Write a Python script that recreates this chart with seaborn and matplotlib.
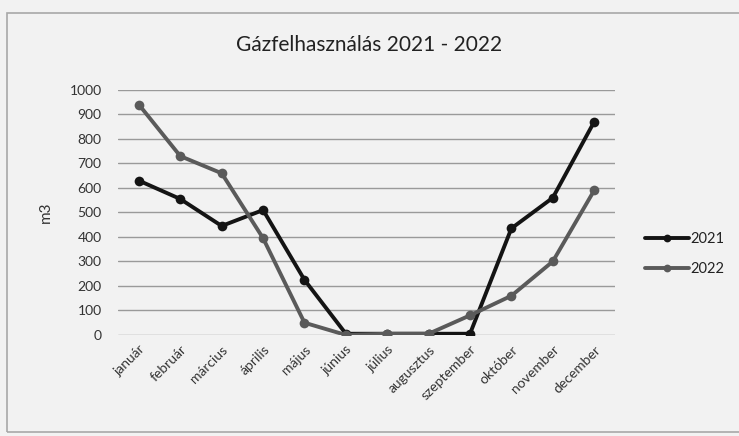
import pandas as pd
import matplotlib.pyplot as plt
import seaborn as sns
from matplotlib.patches import Rectangle

honapok = ['január', 'február', 'március', 'április', 'május', 'június',
           'július', 'augusztus', 'szeptember', 'október', 'november', 'december']
fogyasztas_2021 = [630, 555, 445, 510, 225, 5, 5, 5, 5, 435, 560, 870]
fogyasztas_2022 = [940, 730, 660, 395, 50, 0, 5, 5, 80, 160, 300, 590]
evek = ['2021', '2022']
szinek = {'2021': '#141414', '2022': '#5a5a5a'}

df = pd.DataFrame({
    'honap': honapok * 2,
    'ev': ['2021'] * 12 + ['2022'] * 12,
    'm3': fogyasztas_2021 + fogyasztas_2022,
})
df['pos'] = list(range(12)) * 2

sns.set_theme(style='white')
plt.rcParams['font.family'] = ['Lato', 'DejaVu Sans']

fig = plt.figure(figsize=(7.39, 4.36), dpi=100, facecolor='#f2f2f2')
fig.patches.append(Rectangle((7 / 739, 4 / 436), 740 / 739, 419 / 436,
                             transform=fig.transFigure, fill=False,
                             edgecolor='#a8a8a8', linewidth=1.2))
ax = fig.add_axes([0.160, 0.2317, 0.672, 0.5619])
ax.set_facecolor('#f2f2f2')

sns.lineplot(data=df, x='pos', y='m3', hue='ev', hue_order=evek, palette=szinek,
             marker='o', markersize=7, markeredgewidth=0, linewidth=2.8, ax=ax)

ax.set_xlim(-0.5, 11.5)
ax.set_ylim(0, 1000)
ax.set_yticks(range(0, 1001, 100))
ax.set_xticks(range(12))
ax.set_xticklabels(honapok, rotation=45, ha='right', rotation_mode='anchor',
                   fontsize=10, color='#333333')
ax.tick_params(axis='y', labelsize=10, labelcolor='#333333', length=0, pad=12)
ax.tick_params(axis='x', length=0, pad=6)
ax.yaxis.grid(True, color='#9a9a9a', linewidth=1.0)
ax.set_axisbelow(True)
for s in ax.spines.values():
    s.set_visible(False)
ax.set_xlabel('')
ax.set_ylabel('m3', fontsize=11, color='#333333', labelpad=12)

fig.text(0.5, 0.897, 'Gázfelhasználás 2021 - 2022', ha='center', va='center',
         fontsize=15, color='#222222')

leg = ax.legend(loc='center left', bbox_to_anchor=(1.035, 0.33), frameon=False,
                fontsize=10.5, handlelength=3.0, handletextpad=0.1, labelspacing=1.1,
                markerscale=0.8)
for t in leg.get_texts():
    t.set_color('#222222')

fig.savefig('out.png', dpi=100, facecolor=fig.get_facecolor())
